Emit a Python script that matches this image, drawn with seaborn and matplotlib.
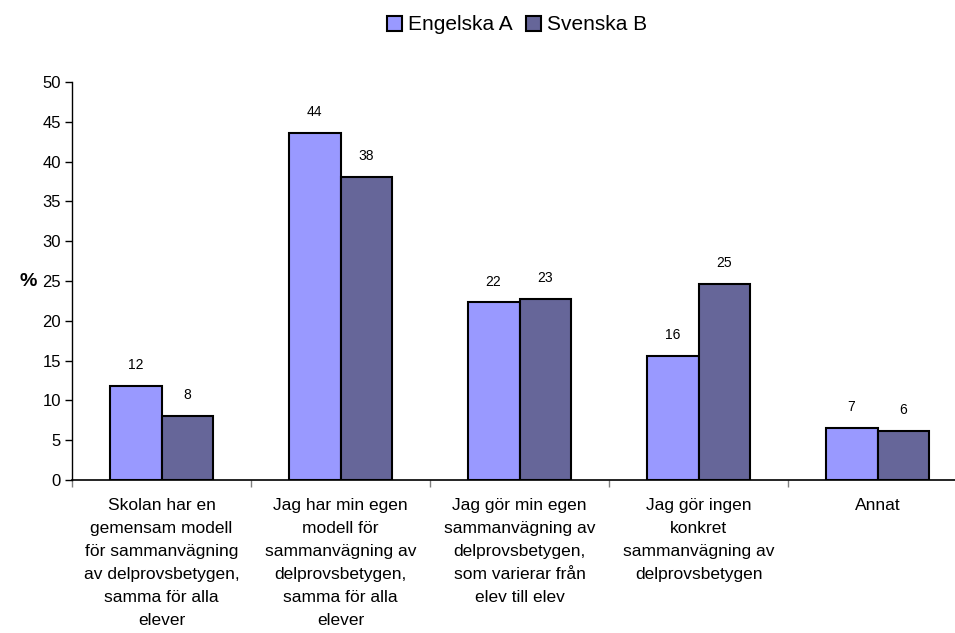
import numpy as np
import pandas as pd
import matplotlib.pyplot as plt
import seaborn as sns

# Data (percent)
categories = [
    "Skolan har en\ngemensam modell\nför sammanvägning\nav delprovsbetygen,\nsamma för alla\nelever",
    "Jag har min egen\nmodell för\nsammanvägning av\ndelprovsbetygen,\nsamma för alla\nelever",
    "Jag gör min egen\nsammanvägning av\ndelprovsbetygen,\nsom varierar från\nelev till elev",
    "Jag gör ingen\nkonkret\nsammanvägning av\ndelprovsbetygen",
    "Annat",
]
series_names = ["Engelska A", "Svenska B"]
engelska_a = [11.8, 43.6, 22.3, 15.6, 6.5]
svenska_b = [8.0, 38.1, 22.8, 24.6, 6.2]
colors = ["#9999FF", "#666699"]


def build_frame():
    rows = []
    for cat, e, s in zip(categories, engelska_a, svenska_b):
        rows.append({"cat": cat, "serie": series_names[0], "value": e})
        rows.append({"cat": cat, "serie": series_names[1], "value": s})
    return pd.DataFrame(rows)


def main():
    sns.set_style("white")
    plt.rcParams["font.family"] = ["Liberation Sans", "DejaVu Sans"]
    plt.rcParams["text.color"] = "black"
    plt.rcParams["axes.labelcolor"] = "black"
    plt.rcParams["xtick.color"] = "black"
    plt.rcParams["ytick.color"] = "black"

    df = build_frame()
    fig = plt.figure(figsize=(9.55, 6.33), dpi=100)
    ax = fig.add_axes([72 / 955, 153 / 633, 895 / 955, 398 / 633])

    sns.barplot(data=df, x="cat", y="value", hue="serie", order=categories,
                hue_order=series_names, palette=colors, width=0.58,
                edgecolor="black", linewidth=1.5, saturation=1, ax=ax)

    # value labels, rounded half up
    for cont in ax.containers:
        ax.bar_label(cont, fmt=lambda v: f"{np.floor(v + 0.5):.0f}",
                     padding=10, fontsize=10, color="black")

    ax.set_xlim(-0.5, len(categories) - 0.5)
    ax.set_ylim(0, 50)
    ax.set_yticks(range(0, 51, 5))
    ax.tick_params(axis="y", labelsize=12, length=5, width=1, color="black",
                   direction="out", left=True, pad=3)
    ax.tick_params(axis="x", which="major", length=0, labelsize=12.5, pad=13)
    ax.set_xticks(np.arange(-0.5, len(categories), 1), minor=True)
    ax.tick_params(axis="x", which="minor", length=5, width=1, color="#808080",
                   direction="out", bottom=True)
    for lbl in ax.get_xticklabels():
        lbl.set_linespacing(1.66)

    ax.set_xlabel("")
    ax.set_ylabel("%", fontsize=14, fontweight="bold", rotation=0, labelpad=10,
                  va="center")
    sns.despine(ax=ax)
    ax.spines["left"].set_color("black")
    ax.spines["bottom"].set_color("black")
    ax.spines["left"].set_linewidth(1)
    ax.spines["bottom"].set_linewidth(1.2)

    leg = ax.legend(loc="center", bbox_to_anchor=(517 / 955, 1 - 25 / 633),
                    bbox_transform=fig.transFigure, ncol=2, frameon=False,
                    fontsize=15, handlelength=0.75, handleheight=0.75,
                    handletextpad=0.3, columnspacing=0.6)
    for h in leg.legend_handles:
        h.set_edgecolor("black")
        h.set_linewidth(1.5)

    fig.savefig("out.png", dpi=100)
    plt.close(fig)


if __name__ == "__main__":
    main()
